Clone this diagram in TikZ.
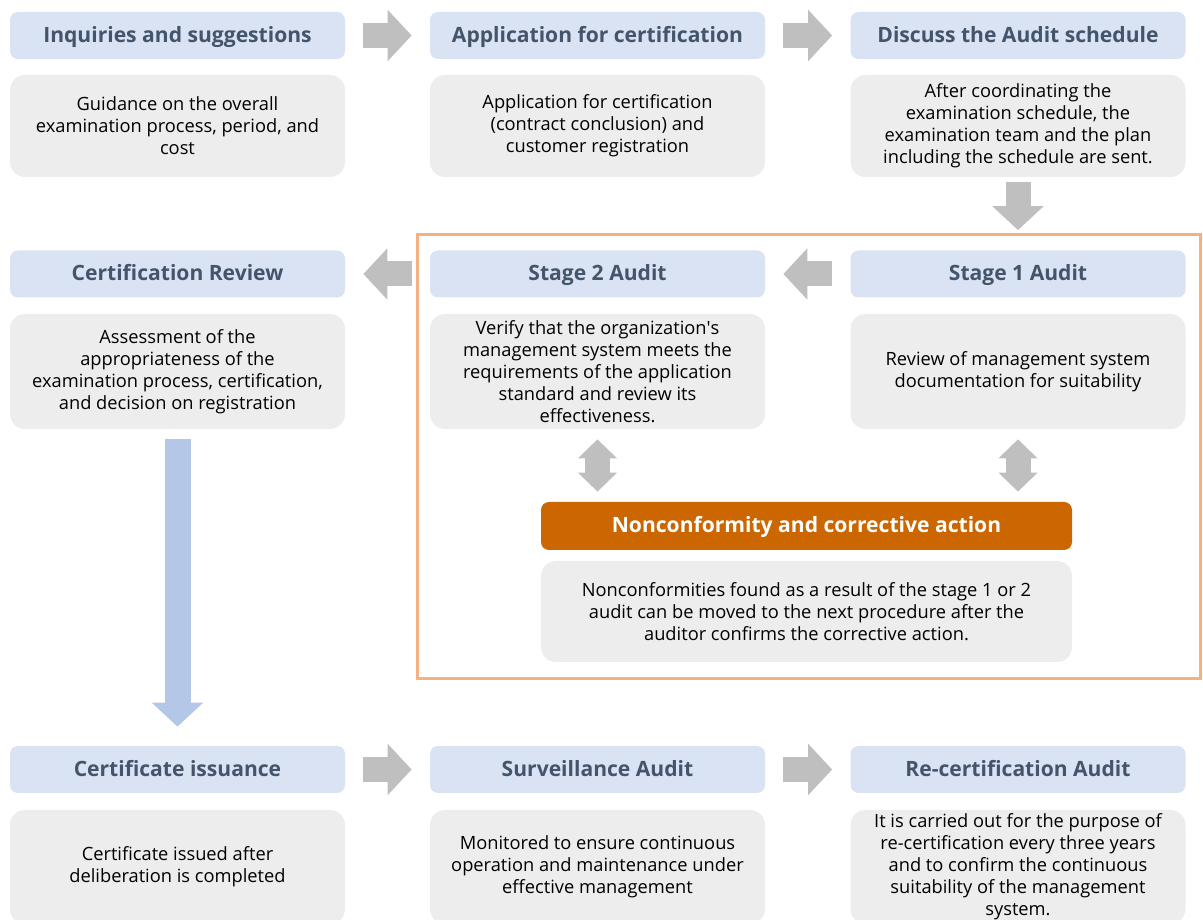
\documentclass[tikz,border=0pt]{standalone}
\usepackage{fontspec}
\setmainfont{Open Sans}
\usetikzlibrary{arrows.meta}
\definecolor{titleblue}{HTML}{DAE3F3}
\definecolor{titletext}{HTML}{44546A}
\definecolor{bodygray}{HTML}{EDEDED}
\definecolor{arrowgray}{HTML}{BFBFBF}
\definecolor{ncorange}{HTML}{CC6600}
\definecolor{frameorange}{HTML}{F4B183}
\definecolor{flowblue}{HTML}{B4C7E7}
\begin{document}
\begin{tikzpicture}[
    titlebox/.style={fill=titleblue, rounded corners=0.16cm, minimum width=6.7cm, minimum height=0.94cm, inner sep=0pt, text height=0.9em, text depth=0.15em, text=titletext, font=\fontsize{12}{14}\selectfont\bfseries},
    bodybox/.style={fill=bodygray, rounded corners=0.3cm, minimum width=6.7cm, inner sep=0pt, align=center, font=\fontsize{10.4}{12.5}\selectfont},
    grayarrow/.style={draw=arrowgray, line width=0.5cm, -{Triangle[width=1cm,length=0.48cm]}, shorten <=0.36cm, shorten >=0.36cm},
    twoway/.style={draw=arrowgray, line width=0.5cm, {Triangle[width=0.76cm,length=0.38cm]}-{Triangle[width=0.76cm,length=0.38cm]}, shorten <=0.2cm, shorten >=0.2cm}
  ]
    \useasboundingbox (0, 0) rectangle (24.06, -18.4);
    % audit frame
    \draw[frameorange, line width=0.06cm] (8.34, -4.7) rectangle (24.0, -13.58);
    % first row
    \node[titlebox] (inq) at (3.55, -0.71) {Inquiries and suggestions};
    \node[bodybox, minimum height=2.04cm] (inqb) at (3.55, -2.52) {Guidance on the overall\\examination process, period, and\\cost};
    \node[titlebox] (app) at (11.95, -0.71) {Application for certification};
    \node[bodybox, minimum height=2.04cm] (appb) at (11.95, -2.52) {Application for certification\\(contract conclusion) and\\customer registration};
    \node[titlebox] (disc) at (20.36, -0.71) {Discuss the Audit schedule};
    \node[bodybox, minimum height=2.04cm] (discb) at (20.36, -2.52) {After coordinating the\\examination schedule, the\\examination team and the plan\\including the schedule are sent.};
    % second row
    \node[titlebox] (rev) at (3.55, -5.48) {Certification Review};
    \node[bodybox, minimum height=2.3cm] (revb) at (3.55, -7.43) {Assessment of the\\appropriateness of the\\examination process, certification,\\and decision on registration};
    \node[titlebox] (st2) at (11.95, -5.48) {Stage 2 Audit};
    \node[bodybox, minimum height=2.3cm] (st2b) at (11.95, -7.43) {Verify that the organization\textquotesingle s\\management system meets the\\requirements of the application\\standard and review its\\effectiveness.};
    \node[titlebox] (st1) at (20.36, -5.48) {Stage 1 Audit};
    \node[bodybox, minimum height=2.3cm] (st1b) at (20.36, -7.43) {Review of management system\\documentation for suitability};
    % nonconformity
    \node[titlebox, fill=ncorange, text=white, minimum width=10.62cm, minimum height=0.96cm] (nc) at (16.13, -10.52) {Nonconformity and corrective action};
    \node[bodybox, minimum width=10.62cm, minimum height=2.02cm] (ncb) at (16.13, -12.23) {Nonconformities found as a result of the stage 1 or 2\\audit can be moved to the next procedure after the\\auditor confirms the corrective action.};
    % third row
    \node[titlebox] (iss) at (3.55, -15.39) {Certificate issuance};
    \node[bodybox, minimum height=2.28cm] (issb) at (3.55, -17.34) {Certificate issued after\\deliberation is completed};
    \node[titlebox] (surv) at (11.95, -15.39) {Surveillance Audit};
    \node[bodybox, minimum height=2.28cm] (survb) at (11.95, -17.34) {Monitored to ensure continuous\\operation and maintenance under\\effective management};
    \node[titlebox] (recert) at (20.36, -15.39) {Re-certification Audit};
    \node[bodybox, minimum height=2.28cm] (recertb) at (20.36, -17.34) {It is carried out for the purpose of\\re-certification every three years\\and to confirm the continuous\\suitability of the management\\system.};
    % arrows
    \draw[grayarrow] (inq) -- (app);
    \draw[grayarrow] (app) -- (disc);
    \draw[grayarrow, shorten <=0.1cm, shorten >=0.4cm] (discb) -- (st1);
    \draw[grayarrow] (st1) -- (st2);
    \draw[grayarrow] (st2) -- (rev);
    \draw[twoway] (st2b.south) -- (st2b.south |- nc.north);
    \draw[twoway] (st1b.south) -- (st1b.south |- nc.north);
    \draw[flowblue, line width=0.52cm, -{Triangle[width=1cm,length=0.48cm]}, shorten <=0.2cm, shorten >=0.38cm] (revb) -- (iss);
    \draw[grayarrow] (iss) -- (surv);
    \draw[grayarrow] (surv) -- (recert);
\end{tikzpicture}
\end{document}
